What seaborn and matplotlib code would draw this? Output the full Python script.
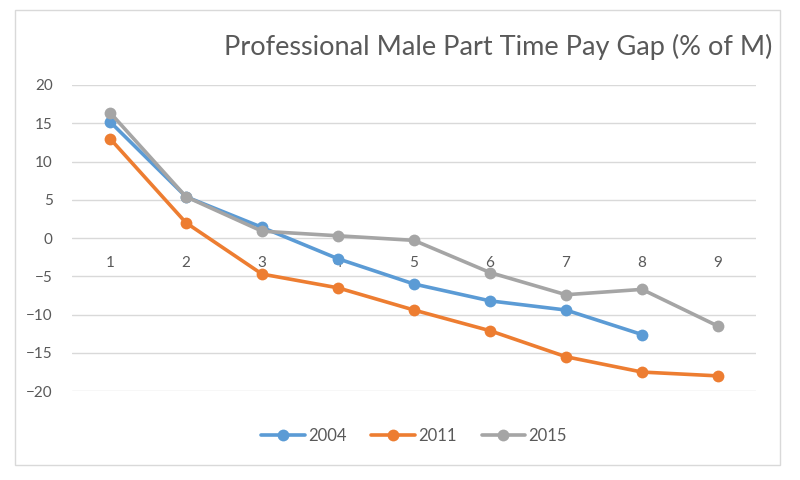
import pandas as pd
import matplotlib.pyplot as plt
from matplotlib.patches import Rectangle
import seaborn as sns

# values
groups = [1, 2, 3, 4, 5, 6, 7, 8, 9]
gap_2004 = [15.2, 5.4, 1.4, -2.7, -6.0, -8.2, -9.4, -12.6]
gap_2011 = [13.0, 2.0, -4.7, -6.5, -9.4, -12.1, -15.5, -17.5, -18.0]
gap_2015 = [16.4, 5.4, 0.9, 0.3, -0.3, -4.5, -7.4, -6.7, -11.5]
years = ['2004', '2011', '2015']
colors = ['#5B9BD5', '#ED7D31', '#A5A5A5']
yticks = [20, 15, 10, 5, 0, -5, -10, -15, -20]

# build long table
rows = []
for yr, vals in zip(years, [gap_2004, gap_2011, gap_2015]):
    for g, v in zip(groups, vals):
        rows.append({'group': g, 'gap': v, 'year': yr})
df = pd.DataFrame(rows)

sns.set_style('white')
plt.rcParams['font.family'] = ['Lato', 'DejaVu Sans']

fig = plt.figure(figsize=(8, 4.8), dpi=100)
ax = fig.add_axes([0.09, 0.185, 0.855, 0.638])

# outer chart border
fig.patches.append(Rectangle((15 / 800, 15 / 480), 765 / 800, 455 / 480,
                             transform=fig.transFigure, fill=False,
                             edgecolor='#D9D9D9', linewidth=1))

sns.lineplot(data=df, x='group', y='gap', hue='year', palette=colors,
             marker='o', markersize=8.5, markeredgewidth=0, linewidth=2.6, ax=ax)

ax.set_xlim(0.5, 9.5)
ax.set_ylim(-20, 20)
ax.set_yticks(yticks)
ax.set_xticks(groups)
ax.set_xticklabels([str(g) for g in groups])
ax.yaxis.grid(True, color='#D9D9D9', linewidth=1)
ax.xaxis.grid(False)
ax.set_axisbelow(True)
for s in ['top', 'right', 'left']:
    ax.spines[s].set_visible(False)
ax.spines['bottom'].set_position(('data', 0))
ax.spines['bottom'].set_visible(False)
ax.tick_params(axis='x', length=0, pad=13, labelsize=11, labelcolor='#595959')
ax.tick_params(axis='y', length=0, pad=14, labelsize=11, labelcolor='#595959')
ax.set_xlabel('')
ax.set_ylabel('')

fig.text(772 / 800, 1 - 47 / 480, 'Professional Male Part Time Pay Gap (% of M)',
         ha='right', va='center', fontsize=19.5, color='#595959')

sns.move_legend(ax, 'center', bbox_to_anchor=(0.5, -0.145), ncol=3,
                frameon=False, title=None, fontsize=12,
                handlelength=2.6, columnspacing=1.5, handletextpad=0.2)
for t in ax.get_legend().get_texts():
    t.set_color('#595959')

fig.savefig('out.png', dpi=100)
